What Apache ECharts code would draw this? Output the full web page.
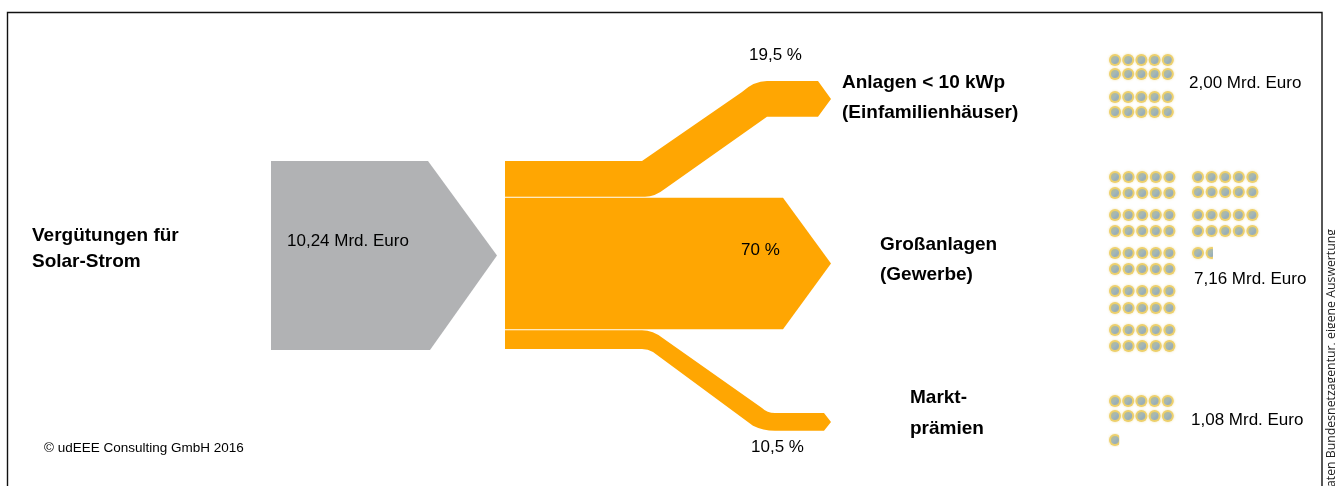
<!DOCTYPE html>
<html lang="de">
<head>
<meta charset="utf-8">
<title>Vergütungen für Solar-Strom</title>
<style>
  html, body { margin: 0; padding: 0; background: #fff; overflow: hidden; }
  #chart { width: 1335px; height: 486px; }
</style>
<script src="https://cdn.jsdelivr.net/npm/echarts@6/dist/echarts.min.js"></script>
</head>
<body>
<div id="chart"></div>
<script>
// Values
const totalMrdEuro = 10.24;
const sharePercent = [19.5, 70, 10.5];
const segmentMrdEuro = [2.00, 7.16, 1.08];
const mrdEuroPerCoin = 0.1;

// Wording
const sourceTitle = ['Vergütungen für', 'Solar-Strom'];
const segmentTitles = [
  ['Anlagen < 10 kWp', '(Einfamilienhäuser)'],
  ['Großanlagen', '(Gewerbe)'],
  ['Markt-', 'prämien']
];
const copyright = '© udEEE Consulting GmbH 2016';
const sourceNote = 'Daten Bundesnetzagentur, eigene Auswertung';

const de = (v, digits) => v.toLocaleString('de-DE', { minimumFractionDigits: digits, maximumFractionDigits: digits });

// Diagram geometry in the plot's units (one unit per pixel)
const ORANGE = '#ffa602';
const GREY = '#b1b2b4';
const FLOW_TOP = 161;
const UNITS_PER_PERCENT = 1.89;
const BAND_GAP = 1;

const bandRoutes = [
  { endTop: 81, kind: 'up' },
  { kind: 'main' },
  { endTop: 413, kind: 'down' }
];

const titleCells = [
  { x: 842, y: [83, 113] },
  { x: 880, y: [245, 275] },
  { x: 910, y: [398, 429] }
];
const shareCells = [[749, 55.5], [741, 250.5], [751, 447.5]];
const amountCells = [[1189, 83.5], [1194, 279.5], [1191, 420.5]];

// Coin blocks: five to a row, rows listed per column
const coinBlocks = [
  { columns: [{ x: 1115, rows: [60, 74, 97, 112] }], step: 13.2 },
  {
    columns: [
      { x: 1115, rows: [177, 193, 215, 231, 253, 269, 291, 308, 330, 346] },
      { x: 1198, rows: [177, 192, 215, 231, 253] }
    ],
    step: 13.6
  },
  { columns: [{ x: 1115, rows: [401, 416, 440] }], step: 13.2 }
];

function coinPlacements() {
  const out = [];
  segmentMrdEuro.forEach((amount, b) => {
    const coins = amount / mrdEuroPerCoin;
    const whole = Math.floor(coins + 1e-6);
    const fraction = coins - whole;
    const total = whole + (fraction > 0.01 ? 1 : 0);
    let n = 0;
    coinBlocks[b].columns.forEach(col => {
      col.rows.forEach(y => {
        for (let i = 0; i < 5 && n < total; i++, n++) {
          const part = n === whole ? fraction : 1;
          out.push([col.x + i * coinBlocks[b].step, y, part]);
        }
      });
    });
  });
  return out;
}

// Outline of one flow band, its thickness follows its share
function bandPath(api, index) {
  const before = sharePercent.slice(0, index).reduce((a, b) => a + b, 0);
  const top = FLOW_TOP + before * UNITS_PER_PERCENT;
  const t = sharePercent[index] * UNITS_PER_PERCENT - BAND_GAP;
  const p = (x, y) => api.coord([x, y]).join(' ');
  const bot = top + t;
  const route = bandRoutes[index];
  if (route.kind === 'main') {
    return `M${p(505, top)} L${p(783, top)} L${p(831, (top + bot) / 2)} L${p(783, bot)} L${p(505, bot)} Z`;
  }
  if (route.kind === 'up') {
    const eT = route.endTop, eB = eT + t, mid = eT + t / 2;
    return `M${p(505, top)} L${p(642, top)} L${p(742, eT + 11)} ` +
      `Q${p(754, eT)} ${p(767, eT)} L${p(818, eT)} L${p(831, mid)} L${p(818, eB)} L${p(767, eB)} ` +
      `L${p(665, bot - 8)} Q${p(655, bot)} ${p(645, bot)} L${p(505, bot)} Z`;
  }
  const eT = route.endTop, eB = eT + t - 1, mid = (eT + eB) / 2;
  return `M${p(505, top)} L${p(642, top)} Q${p(653, top)} ${p(663, top + 8)} L${p(762, eT - 5)} ` +
    `Q${p(767, eT)} ${p(775, eT)} L${p(824, eT)} L${p(831, mid)} L${p(824, eB)} L${p(775, eB)} ` +
    `Q${p(763, eB)} ${p(753, eB - 5)} L${p(653, bot + 3)} Q${p(648, bot)} ${p(642, bot)} L${p(505, bot)} Z`;
}

function sourcePath(api) {
  const p = (x, y) => api.coord([x, y]).join(' ');
  const h = 100 * UNITS_PER_PERCENT;
  const b = FLOW_TOP + h;
  return `M${p(271, FLOW_TOP)} L${p(428, FLOW_TOP)} L${p(497, FLOW_TOP + h / 2)} L${p(430, b)} L${p(271, b)} Z`;
}

function renderCoin(params, api) {
  const c = api.coord([api.value(0), api.value(1)]);
  const part = api.value(2);
  const r = 6;
  const children = [
    {
      type: 'circle',
      shape: { cx: c[0], cy: c[1], r: r },
      style: { fill: '#edd06c', shadowBlur: 2.5, shadowColor: 'rgba(240,220,150,0.8)' }
    },
    {
      type: 'circle',
      shape: { cx: c[0], cy: c[1], r: r - 2 },
      style: {
        fill: {
          type: 'linear', x: 0, y: 0, x2: 1, y2: 1,
          colorStops: [
            { offset: 0, color: '#bdbd86' },
            { offset: 0.45, color: '#a4b7b6' },
            { offset: 0.7, color: '#98aeb8' },
            { offset: 1, color: '#b9b696' }
          ]
        }
      }
    }
  ];
  const group = { type: 'group', children: children };
  if (part < 1) {
    group.clipPath = {
      type: 'rect',
      shape: { x: c[0] - r - 1, y: c[1] - r - 1, width: (2 * r + 2) * part, height: 2 * r + 2 }
    };
  }
  return group;
}

// Plain text placed through the same axes as the shapes
function textRows() {
  const rows = [];
  const add = (x, y, text, font) => rows.push([x, y, text, font]);
  add(32, 236, sourceTitle[0], 'title');
  add(32, 262, sourceTitle[1], 'title');
  add(287, 241.5, de(totalMrdEuro, 2) + ' Mrd. Euro', 'plain');
  segmentTitles.forEach((lines, i) => lines.forEach((line, k) => add(titleCells[i].x, titleCells[i].y[k], line, 'title')));
  sharePercent.forEach((v, i) => add(shareCells[i][0], shareCells[i][1], de(v, Number.isInteger(v) ? 0 : 1) + ' %', 'plain'));
  segmentMrdEuro.forEach((v, i) => add(amountCells[i][0], amountCells[i][1], de(v, 2) + ' Mrd. Euro', 'plain'));
  add(44, 448, copyright, 'small');
  return rows;
}

const fonts = {
  title: { font: 'bold 19px "Liberation Sans", Arial, sans-serif' },
  plain: { font: '17px "Liberation Sans", Arial, sans-serif' },
  small: { font: '13.5px "Liberation Sans", Arial, sans-serif' }
};

const chart = echarts.init(document.getElementById('chart'));
chart.setOption({
  animation: false,
  backgroundColor: '#ffffff',
  grid: { left: 0, right: 0, top: 0, bottom: 0 },
  xAxis: { type: 'value', min: 0, max: 1335, show: false },
  yAxis: { type: 'value', min: 0, max: 486, inverse: true, show: false },
  tooltip: { show: false },
  graphic: [
    {
      type: 'rect', silent: true, z: 0,
      shape: { x: 7.5, y: 12.5, width: 1314.5, height: 500 },
      style: { fill: 'none', stroke: '#111', lineWidth: 1.4 }
    },
    {
      type: 'text', silent: true, z: 5,
      x: 1325, y: 229, rotation: Math.PI / 2,
      style: {
        text: sourceNote, fill: '#222', textAlign: 'right', textVerticalAlign: 'top',
        font: '12.3px "Open Sans", "Noto Sans", sans-serif'
      }
    }
  ],
  series: [
    {
      type: 'custom', name: 'Gesamt', coordinateSystem: 'cartesian2d', clip: false, silent: true,
      data: [[totalMrdEuro]],
      encode: { x: -1, y: -1 },
      renderItem: (params, api) => ({
        type: 'path', shape: { pathData: sourcePath(api) }, style: { fill: GREY }
      })
    },
    {
      type: 'custom', name: 'Anteile', coordinateSystem: 'cartesian2d', clip: false, silent: true,
      data: sharePercent.map(v => [v]),
      encode: { x: -1, y: -1 },
      renderItem: (params, api) => ({
        type: 'path', shape: { pathData: bandPath(api, params.dataIndex) }, style: { fill: ORANGE }
      })
    },
    {
      type: 'custom', name: 'Münzen', coordinateSystem: 'cartesian2d', clip: false, silent: true,
      data: coinPlacements(),
      encode: { x: 0, y: 1 },
      renderItem: renderCoin
    },
    {
      type: 'custom', name: 'Texte', coordinateSystem: 'cartesian2d', clip: false, silent: true, z: 10,
      data: textRows(),
      dimensions: ['x', 'y', 'text', 'font'],
      encode: { x: 0, y: 1 },
      renderItem: (params, api) => {
        const row = textRows()[params.dataIndex];
        const c = api.coord([row[0], row[1]]);
        return {
          type: 'text', x: c[0], y: c[1],
          style: { text: row[2], fill: '#000', textAlign: 'left', textVerticalAlign: 'middle', font: fonts[row[3]].font }
        };
      }
    }
  ]
});
</script>
</body>
</html>
